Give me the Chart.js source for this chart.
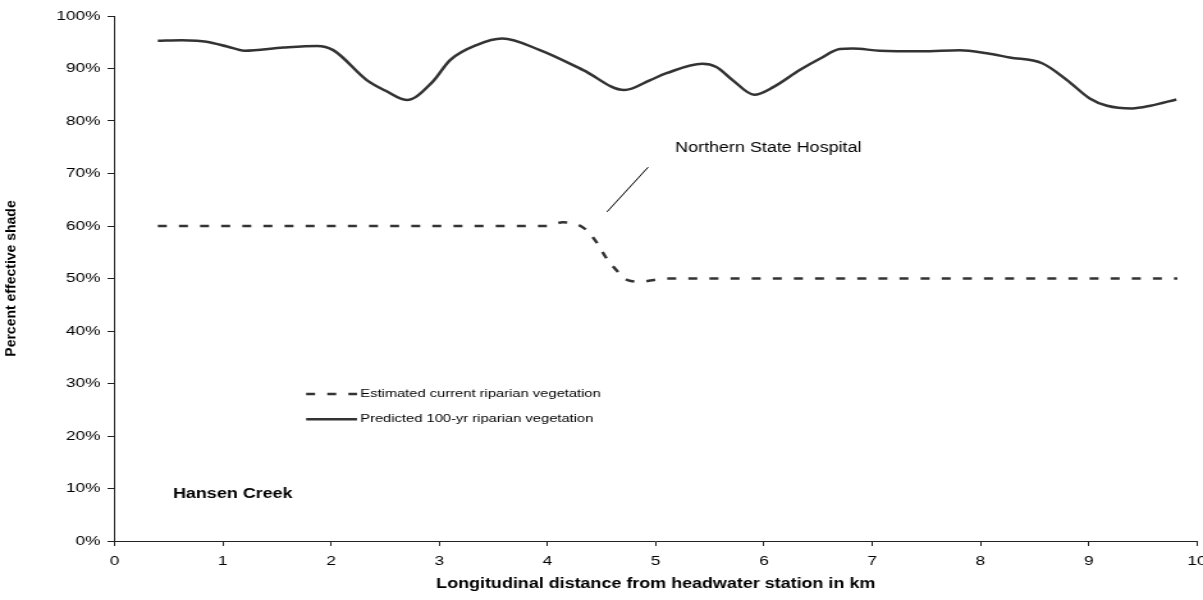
<!DOCTYPE html>
<html>
<head>
<meta charset="utf-8">
<title>Hansen Creek effective shade</title>
<script src="https://cdn.jsdelivr.net/npm/chart.js@4.4.1/dist/chart.umd.min.js"></script>
<style>
  html, body { margin: 0; padding: 0; background: #fff; overflow: hidden; }
  /* the chart is laid out narrow and stretched sideways, like the wide Excel export */
  #wrap { width: 940px; height: 600px; transform: scaleX(1.2798); transform-origin: 0 0; }
</style>
</head>
<body>
<div id="wrap"><canvas id="shade" width="940" height="600"></canvas></div>
<script>
// distance from headwater station (km) and effective shade (%)
const kmPredicted = [0.40, 0.62, 0.76, 0.85, 1.04, 1.20, 1.56, 1.87, 2.02, 2.33, 2.50, 2.70, 2.94, 3.10,
  3.35, 3.58, 3.93, 4.33, 4.71, 4.95, 5.10, 5.43, 5.56, 5.71, 5.91, 6.09, 6.33, 6.52, 6.70, 6.82,
  7.07, 7.46, 7.81, 8.06, 8.27, 8.57, 8.80, 9.01, 9.17, 9.40, 9.57, 9.81];
const shadePredicted = [95.3, 95.4, 95.3, 95.1, 94.2, 93.4, 94.0, 94.3, 93.5, 87.8, 85.8, 84.0, 87.5, 91.6,
  94.5, 95.7, 93.5, 89.7, 85.9, 87.8, 89.1, 90.9, 90.3, 87.8, 85.0, 86.5, 89.7, 91.9, 93.7, 93.8,
  93.4, 93.3, 93.5, 92.9, 92.1, 91.0, 87.8, 84.3, 82.9, 82.4, 82.9, 84.1];

const kmCurrent = [0.40, 1, 2, 3, 4.00, 4.14, 4.33, 4.45, 4.54, 4.65, 4.74, 4.87, 4.95, 5.10, 6, 7, 8, 9, 9.82];
const shadeCurrent = [60, 60, 60, 60, 60, 60.7, 59.7, 57.0, 54.0, 51.3, 49.7, 49.4, 49.6, 50.0, 50, 50, 50, 50, 50];

const seriesNames = ['Estimated current riparian vegetation', 'Predicted 100-yr riparian vegetation'];
const xTicks = [0, 1, 2, 3, 4, 5, 6, 7, 8, 9, 10];
const yTicks = [0, 10, 20, 30, 40, 50, 60, 70, 80, 90, 100];

const stretchX = 1.2798;
const lineColor = '#333333';
const axisColor = '#222222';
const dashPattern = [7, 9.5];
const fontFamily = "'Liberation Sans', Arial, sans-serif";

Chart.defaults.font.family = fontFamily;
Chart.defaults.color = '#000';

const toPoints = (xs, ys) => xs.map((x, i) => ({ x, y: ys[i] }));

// free text, pointer line, the inset legend and the vertical axis title
const notesPlugin = {
  id: 'shadeNotes',
  afterDatasetsDraw(chart) {
    const { ctx, chartArea, scales: { x, y } } = chart;
    const px = (v) => x.getPixelForValue(v);
    const py = (v) => y.getPixelForValue(v);

    ctx.save();
    ctx.fillStyle = '#000';
    ctx.textAlign = 'left';
    ctx.textBaseline = 'middle';

    // legend
    const rows = [
      { label: chart.data.datasets[0].label, dash: dashPattern, at: 28.0 },
      { label: chart.data.datasets[1].label, dash: [], at: 23.2 }
    ];
    ctx.font = `11.5px ${fontFamily}`;
    rows.forEach((row) => {
      ctx.strokeStyle = lineColor;
      ctx.lineWidth = 2.5;
      ctx.setLineDash(row.dash);
      ctx.beginPath();
      ctx.moveTo(px(1.77), py(row.at));
      ctx.lineTo(px(2.24), py(row.at));
      ctx.stroke();
      ctx.fillText(row.label, px(2.27), py(row.at));
    });
    ctx.setLineDash([]);

    // site callout
    ctx.font = `14px ${fontFamily}`;
    ctx.fillText('Northern State Hospital', px(5.18), py(74.8));
    ctx.strokeStyle = '#000';
    ctx.lineWidth = 1;
    ctx.beginPath();
    ctx.moveTo(px(4.55), py(62.7));
    ctx.lineTo(px(4.93), py(71.2));
    ctx.stroke();

    // stream name
    ctx.font = `bold 14px ${fontFamily}`;
    ctx.fillText('Hansen Creek', px(0.54), py(8.95));

    // y title: undo the sideways stretch so the turned glyphs keep their shape
    ctx.translate(9.4, (chartArea.top + chartArea.bottom) / 2);
    ctx.scale(1 / stretchX, 1);
    ctx.rotate(-Math.PI / 2);
    ctx.textAlign = 'center';
    ctx.font = `bold 14px ${fontFamily}`;
    ctx.fillText('Percent effective shade', 0, 0);

    ctx.restore();
  }
};

new Chart(document.getElementById('shade'), {
  type: 'line',
  data: {
    datasets: [
      {
        label: seriesNames[0],
        data: toPoints(kmCurrent, shadeCurrent),
        borderColor: lineColor,
        borderWidth: 2.5,
        borderDash: dashPattern,
        cubicInterpolationMode: 'monotone',
        pointRadius: 0
      },
      {
        label: seriesNames[1],
        data: toPoints(kmPredicted, shadePredicted),
        borderColor: lineColor,
        borderWidth: 2.5,
        borderJoinStyle: 'round',
        cubicInterpolationMode: 'monotone',
        pointRadius: 0
      }
    ]
  },
  options: {
    responsive: false,
    animation: false,
    devicePixelRatio: 1,
    layout: { padding: { top: 16, right: 4.8, bottom: 0, left: 0 } },
    plugins: {
      legend: { display: false },
      tooltip: { enabled: false }
    },
    scales: {
      x: {
        type: 'linear',
        min: 0,
        max: 10,
        afterBuildTicks: (scale) => { scale.ticks = xTicks.map((value) => ({ value })); },
        afterFit: (scale) => {
          scale.height = 59;
          scale.paddingLeft = 0;
          scale.paddingRight = 0;
        },
        border: { color: axisColor, width: 1 },
        grid: { drawOnChartArea: false, drawTicks: true, tickLength: 5, color: axisColor },
        ticks: {
          autoSkip: false,
          maxRotation: 0,
          padding: 7,
          font: { size: 13.5 }
        },
        title: {
          display: true,
          text: 'Longitudinal distance from headwater station in km',
          font: { size: 14, weight: 'bold' },
          padding: { top: 0, bottom: 7.6 }
        }
      },
      y: {
        min: 0,
        max: 100,
        afterBuildTicks: (scale) => { scale.ticks = yTicks.map((value) => ({ value })); },
        afterFit: (scale) => {
          scale.width = 89.5;
          scale.paddingTop = 0;
          scale.paddingBottom = 0;
        },
        border: { color: axisColor, width: 1 },
        grid: { drawOnChartArea: false, drawTicks: true, tickLength: 5.5, color: axisColor },
        ticks: {
          padding: 5.5,
          font: { size: 13.5 },
          callback: (value) => `${value}%`
        }
      }
    }
  },
  plugins: [notesPlugin]
});
</script>
</body>
</html>
